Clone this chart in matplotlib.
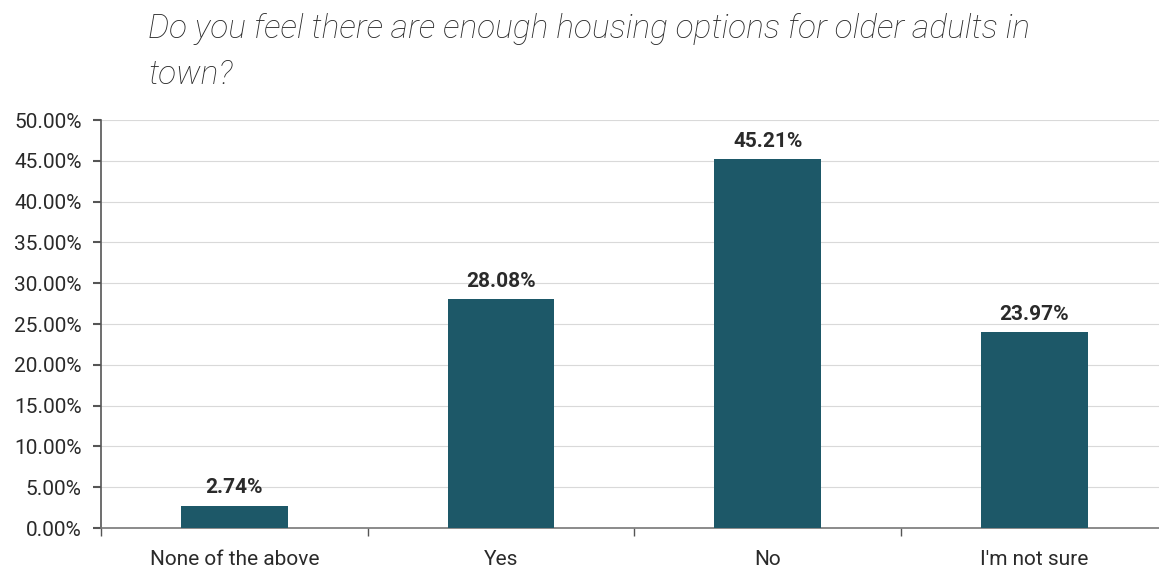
import matplotlib.pyplot as plt
from matplotlib.ticker import FuncFormatter, FixedLocator
import numpy as np

# podaci sa grafika
kategorije = ['None of the above', 'Yes', 'No', "I'm not sure"]
procenti = [2.74, 28.08, 45.21, 23.97]
y_ticks = [0, 5, 10, 15, 20, 25, 30, 35, 40, 45, 50]

plt.rcParams['font.family'] = ['Roboto', 'DejaVu Sans']

fig = plt.figure(figsize=(11.59, 5.69), dpi=100)
ax = fig.add_axes([0.0871, 0.072, 0.9206, 0.717])

x = np.arange(len(kategorije))
bars = ax.bar(x, procenti, width=0.4, color='#1d5868', zorder=3)

for b, v in zip(bars, procenti):
    ax.annotate(f'{v:.2f}%', (b.get_x() + b.get_width() / 2, v),
                xytext=(0, 6), textcoords='offset points',
                ha='center', va='bottom', fontsize=15, fontweight='bold',
                color='#2a2a2a')

ax.set_xlim(-0.5, 3.5)
ax.set_ylim(0, 50)
ax.set_yticks(y_ticks)
ax.yaxis.set_major_formatter(FuncFormatter(lambda v, p: f'{v:.2f}%'))
ax.grid(axis='y', color='#d9d9d9', lw=0.8, zorder=0)

ax.set_xticks(x)
ax.set_xticklabels(kategorije)
ax.xaxis.set_minor_locator(FixedLocator([-0.5, 0.5, 1.5, 2.5, 3.5]))
ax.tick_params(axis='x', which='major', length=0, pad=16, labelsize=15, labelcolor='#2a2a2a')
ax.tick_params(axis='x', which='minor', length=6, color='#555555', width=1)
ax.tick_params(axis='y', length=6, color='#555555', width=1.5, pad=8,
               labelsize=15, labelcolor='#2a2a2a')

for s in ['top', 'right']:
    ax.spines[s].set_visible(False)
ax.spines['left'].set_color('#555555')
ax.spines['left'].set_linewidth(1.2)
ax.spines['bottom'].set_color('#777777')
ax.spines['bottom'].set_linewidth(1.2)

fig.text(148 / 1159, 1 - 13 / 569,
         'Do you feel there are enough housing options for older adults in\ntown?',
         ha='left', va='top', fontsize=24, style='italic', fontweight='light',
         color='#2a2a2a', linespacing=1.55)

fig.savefig('out.png', dpi=100)
